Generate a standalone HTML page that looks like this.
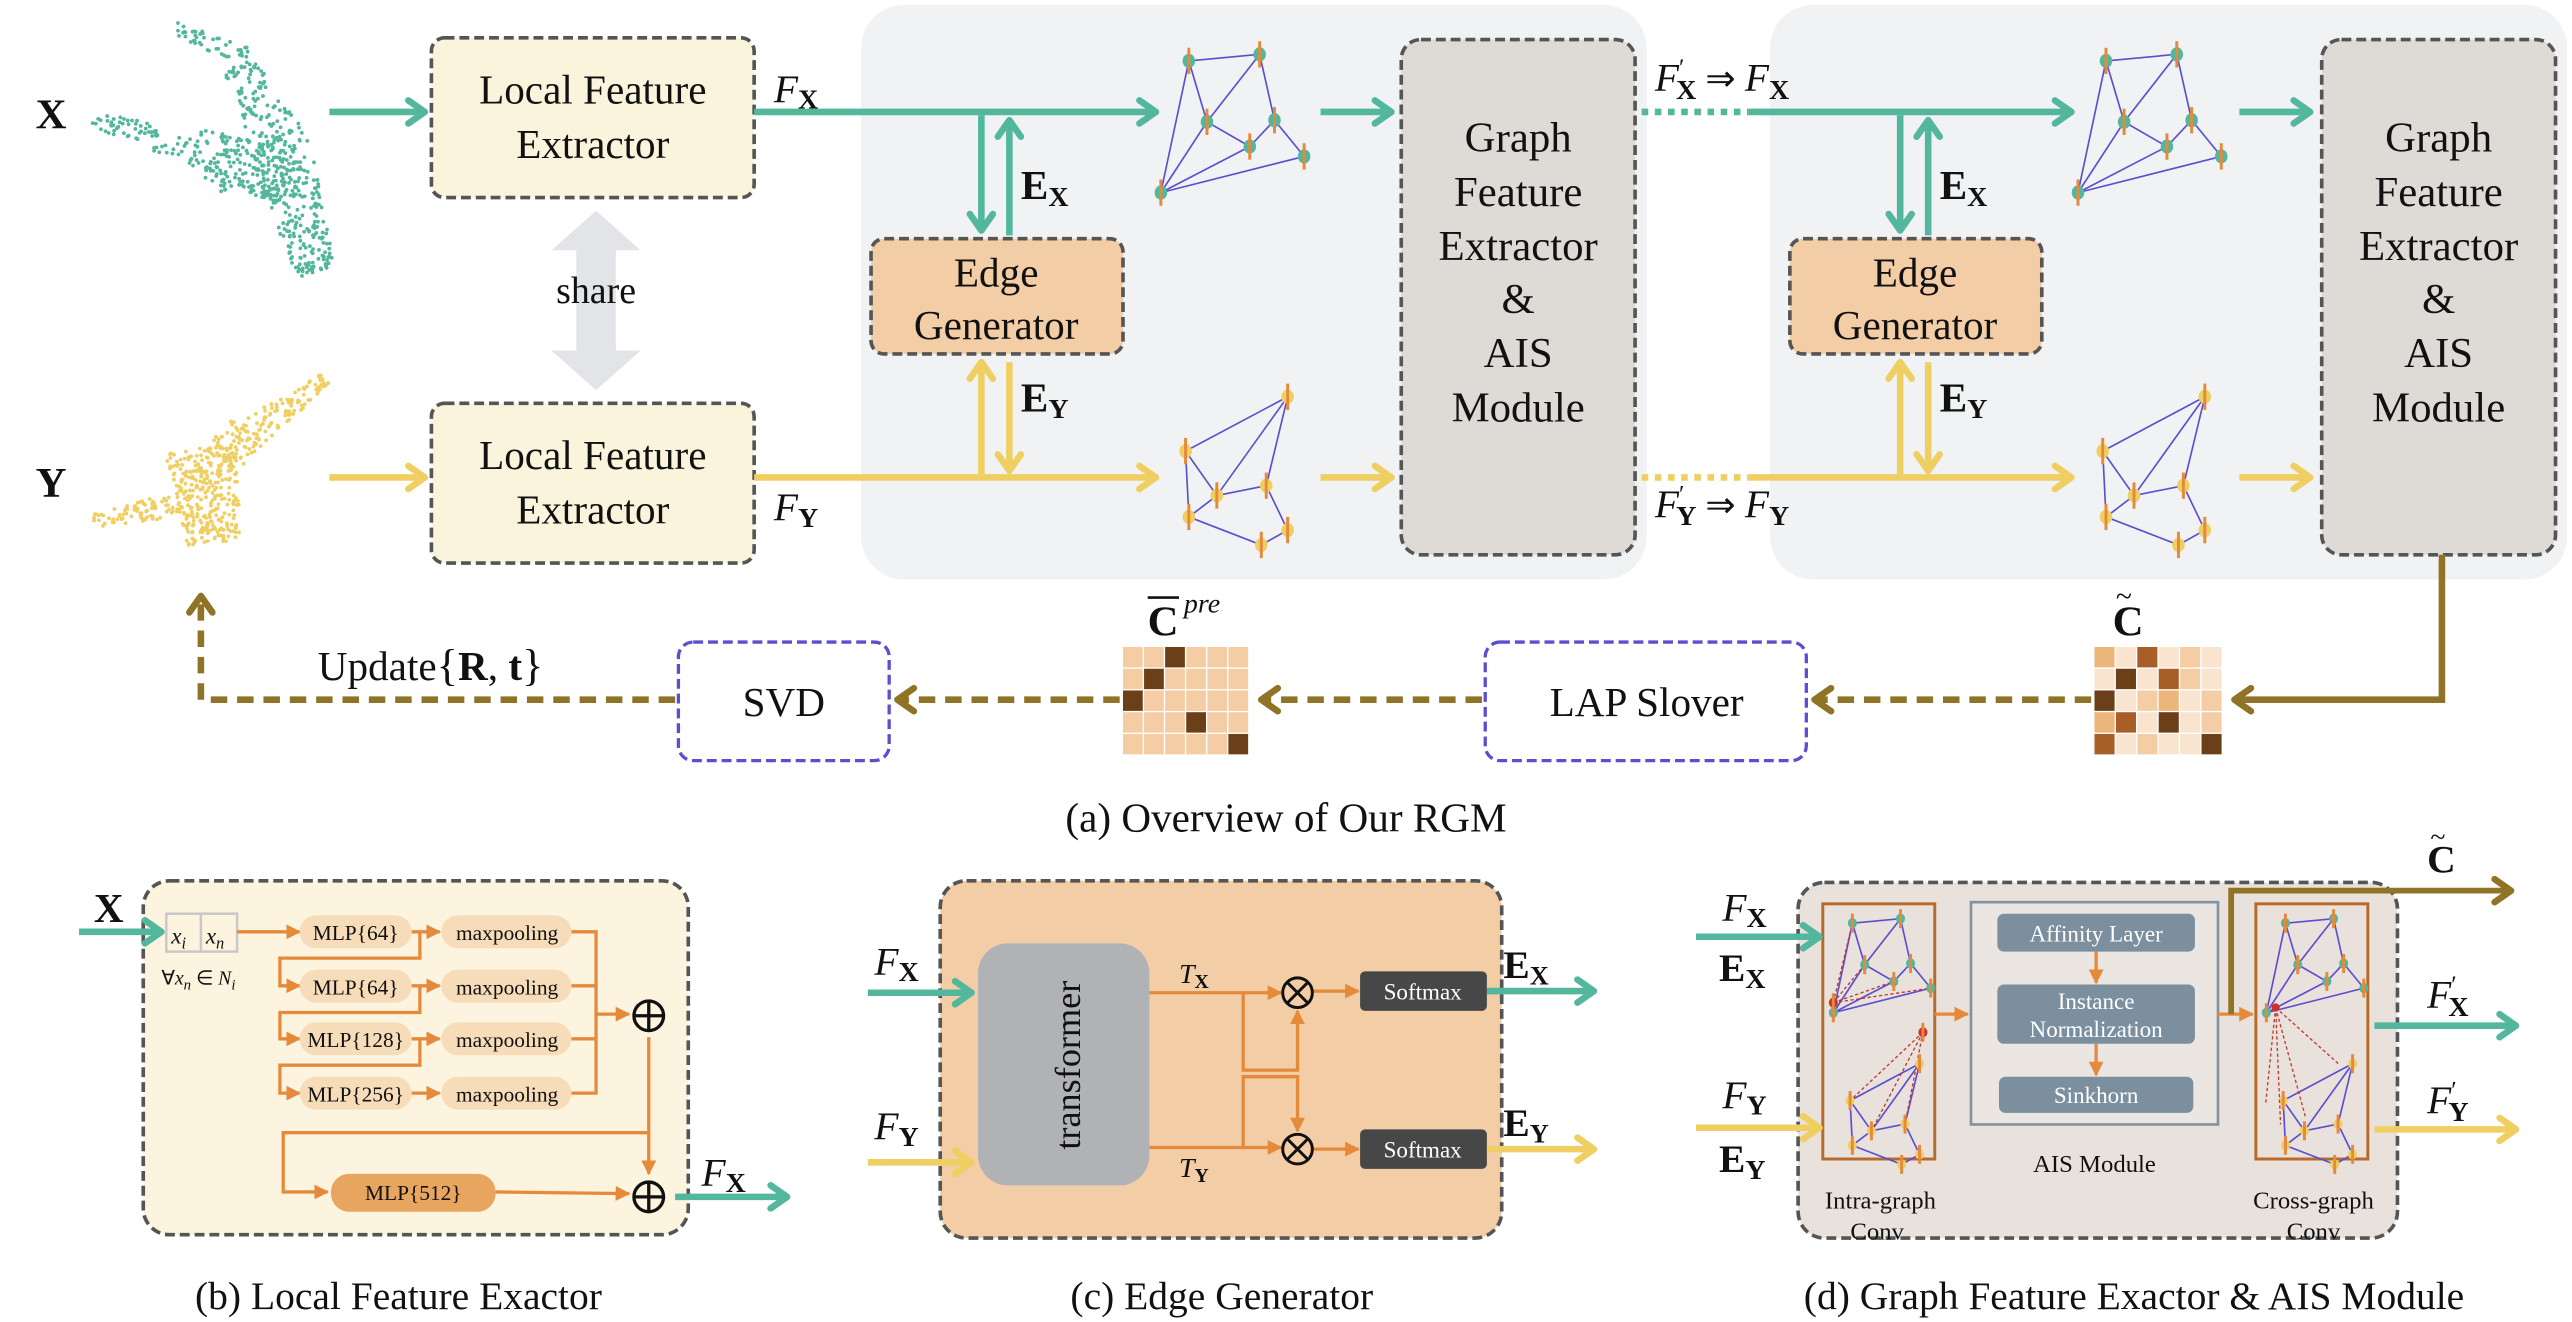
<!DOCTYPE html>
<html><head><meta charset="utf-8">
<style>
html,body{margin:0;padding:0;background:#fff;}
svg{display:block;}
text{font-family:"Liberation Serif",serif;fill:#111;}
</style></head>
<body>
<svg id="s" width="2572" height="1322" viewBox="0 0 1562 803" preserveAspectRatio="none" xmlns="http://www.w3.org/2000/svg">
<defs>
<marker id="mT" markerUnits="userSpaceOnUse" viewBox="0 0 16 18" markerWidth="16" markerHeight="18" refX="13" refY="9" orient="auto"><path d="M3,2 L13,9 L3,16" fill="none" stroke="#52b79c" stroke-width="4" stroke-linecap="round" stroke-linejoin="round"/></marker>
<marker id="mY" markerUnits="userSpaceOnUse" viewBox="0 0 16 18" markerWidth="16" markerHeight="18" refX="13" refY="9" orient="auto"><path d="M3,2 L13,9 L3,16" fill="none" stroke="#f0cf62" stroke-width="4" stroke-linecap="round" stroke-linejoin="round"/></marker>
<marker id="mB" markerUnits="userSpaceOnUse" viewBox="0 0 16 18" markerWidth="16" markerHeight="18" refX="13" refY="9" orient="auto"><path d="M3,2 L13,9 L3,16" fill="none" stroke="#8f7428" stroke-width="4" stroke-linecap="round" stroke-linejoin="round"/></marker>
<marker id="mO" markerUnits="userSpaceOnUse" viewBox="0 0 10 10" markerWidth="9" markerHeight="9" refX="9" refY="5" orient="auto"><path d="M0,0 L10,5 L0,10 Z" fill="#e58a3a"/></marker>
</defs>

<rect x="523" y="3" width="477" height="349" rx="26" fill="#f1f2f4"/>
<rect x="1075" y="3" width="484" height="349" rx="26" fill="#f1f2f4"/>

<g id="clouds"></g>

<text x="31" y="78" font-size="26" font-weight="bold" text-anchor="middle">X</text>
<text x="31" y="302" font-size="26" font-weight="bold" text-anchor="middle">Y</text>

<rect x="262" y="23" width="196" height="97" rx="8" fill="#fbf4dd" stroke="#555" stroke-width="2.2" stroke-dasharray="6,3"/>
<text x="360" y="63" font-size="25" text-anchor="middle">Local Feature</text>
<text x="360" y="96" font-size="25" text-anchor="middle">Extractor</text>
<rect x="262" y="245" width="196" height="97" rx="8" fill="#fbf4dd" stroke="#555" stroke-width="2.2" stroke-dasharray="6,3"/>
<text x="360" y="285" font-size="25" text-anchor="middle">Local Feature</text>
<text x="360" y="318" font-size="25" text-anchor="middle">Extractor</text>

<line x1="200" y1="68" x2="258" y2="68" stroke="#52b79c" stroke-width="4" marker-end="url(#mT)"/>
<line x1="200" y1="290" x2="258" y2="290" stroke="#f0cf62" stroke-width="4" marker-end="url(#mY)"/>

<path d="M362,128 L389,152 L374,152 L374,213 L389,213 L362,237 L335,213 L350,213 L350,152 L335,152 Z" fill="#e3e4e8"/>
<text x="362" y="184" font-size="23" text-anchor="middle">share</text>

<text x="470" y="62" font-size="24" font-style="italic">F<tspan font-size="17" font-weight="bold" font-style="normal" dy="4">X</tspan></text>
<text x="470" y="316" font-size="24" font-style="italic">F<tspan font-size="17" font-weight="bold" font-style="normal" dy="4">Y</tspan></text>

<line x1="458" y1="68" x2="702" y2="68" stroke="#52b79c" stroke-width="4" marker-end="url(#mT)"/>
<line x1="458" y1="290" x2="702" y2="290" stroke="#f0cf62" stroke-width="4" marker-end="url(#mY)"/>

<rect x="529" y="145" width="153" height="70" rx="8" fill="#f2cda6" stroke="#555" stroke-width="2.2" stroke-dasharray="6,3"/>
<text x="605" y="174" font-size="25" text-anchor="middle">Edge</text>
<text x="605" y="206" font-size="25" text-anchor="middle">Generator</text>
<line x1="596" y1="70" x2="596" y2="140" stroke="#52b79c" stroke-width="4" marker-end="url(#mT)"/>
<line x1="613" y1="143" x2="613" y2="73" stroke="#52b79c" stroke-width="4" marker-end="url(#mT)"/>
<text x="620" y="121" font-size="25" font-weight="bold">E<tspan font-size="17" dy="4">X</tspan></text>
<line x1="596" y1="288" x2="596" y2="220" stroke="#f0cf62" stroke-width="4" marker-end="url(#mY)"/>
<line x1="613" y1="220" x2="613" y2="286" stroke="#f0cf62" stroke-width="4" marker-end="url(#mY)"/>
<text x="620" y="250" font-size="25" font-weight="bold">E<tspan font-size="17" dy="4">Y</tspan></text>

<rect x="1087" y="145" width="153" height="70" rx="8" fill="#f2cda6" stroke="#555" stroke-width="2.2" stroke-dasharray="6,3"/>
<text x="1163" y="174" font-size="25" text-anchor="middle">Edge</text>
<text x="1163" y="206" font-size="25" text-anchor="middle">Generator</text>
<line x1="1154" y1="70" x2="1154" y2="140" stroke="#52b79c" stroke-width="4" marker-end="url(#mT)"/>
<line x1="1171" y1="143" x2="1171" y2="73" stroke="#52b79c" stroke-width="4" marker-end="url(#mT)"/>
<text x="1178" y="121" font-size="25" font-weight="bold">E<tspan font-size="17" dy="4">X</tspan></text>
<line x1="1154" y1="288" x2="1154" y2="220" stroke="#f0cf62" stroke-width="4" marker-end="url(#mY)"/>
<line x1="1171" y1="220" x2="1171" y2="286" stroke="#f0cf62" stroke-width="4" marker-end="url(#mY)"/>
<text x="1178" y="250" font-size="25" font-weight="bold">E<tspan font-size="17" dy="4">Y</tspan></text>

<g id="graphs"></g>

<line x1="802" y1="68" x2="845" y2="68" stroke="#52b79c" stroke-width="4" marker-end="url(#mT)"/>
<line x1="802" y1="290" x2="845" y2="290" stroke="#f0cf62" stroke-width="4" marker-end="url(#mY)"/>
<line x1="1360" y1="68" x2="1403" y2="68" stroke="#52b79c" stroke-width="4" marker-end="url(#mT)"/>
<line x1="1360" y1="290" x2="1403" y2="290" stroke="#f0cf62" stroke-width="4" marker-end="url(#mY)"/>

<g>
<rect x="851" y="24" width="142" height="313" rx="12" fill="#dedad6" stroke="#555" stroke-width="2.2" stroke-dasharray="6,3"/>
<text x="922" y="92" font-size="26" text-anchor="middle">Graph</text>
<text x="922" y="125" font-size="26" text-anchor="middle">Feature</text>
<text x="922" y="158" font-size="26" text-anchor="middle">Extractor</text>
<text x="922" y="190" font-size="26" text-anchor="middle">&amp;</text>
<text x="922" y="223" font-size="26" text-anchor="middle">AIS</text>
<text x="922" y="256" font-size="26" text-anchor="middle">Module</text>
</g>
<g>
<rect x="1410" y="24" width="142" height="313" rx="12" fill="#dedad6" stroke="#555" stroke-width="2.2" stroke-dasharray="6,3"/>
<text x="1481" y="92" font-size="26" text-anchor="middle">Graph</text>
<text x="1481" y="125" font-size="26" text-anchor="middle">Feature</text>
<text x="1481" y="158" font-size="26" text-anchor="middle">Extractor</text>
<text x="1481" y="190" font-size="26" text-anchor="middle">&amp;</text>
<text x="1481" y="223" font-size="26" text-anchor="middle">AIS</text>
<text x="1481" y="256" font-size="26" text-anchor="middle">Module</text>
</g>

<line x1="997" y1="68" x2="1062" y2="68" stroke="#52b79c" stroke-width="4" stroke-dasharray="4,4"/>
<line x1="1062" y1="68" x2="1258" y2="68" stroke="#52b79c" stroke-width="4" marker-end="url(#mT)"/>
<line x1="997" y1="290" x2="1062" y2="290" stroke="#f0cf62" stroke-width="4" stroke-dasharray="4,4"/>
<line x1="1062" y1="290" x2="1258" y2="290" stroke="#f0cf62" stroke-width="4" marker-end="url(#mY)"/>
<text x="1005" y="55" font-size="24"><tspan font-style="italic">F</tspan><tspan font-size="15" dy="-9">′</tspan><tspan font-size="17" font-weight="bold" dy="14" dx="-5">X</tspan><tspan dy="-5" font-size="22"> ⇒ </tspan><tspan font-style="italic">F</tspan><tspan font-size="17" font-weight="bold" dy="5">X</tspan></text>
<text x="1005" y="314" font-size="24"><tspan font-style="italic">F</tspan><tspan font-size="15" dy="-9">′</tspan><tspan font-size="17" font-weight="bold" dy="14" dx="-5">Y</tspan><tspan dy="-5" font-size="22"> ⇒ </tspan><tspan font-style="italic">F</tspan><tspan font-size="17" font-weight="bold" dy="5">Y</tspan></text>

<polyline points="1483,337 1483,425 1357,425" fill="none" stroke="#8f7428" stroke-width="4" marker-end="url(#mB)"/>
<g id="mats"></g>
<text x="1283" y="386" font-size="26" font-weight="bold">C</text>
<text x="1285" y="368" font-size="18">~</text>
<text x="697" y="386" font-size="26" font-weight="bold">C</text>
<line x1="697" y1="363" x2="716" y2="363" stroke="#111" stroke-width="1.6"/>
<text x="719" y="372" font-size="17" font-style="italic">pre</text>

<line x1="1270" y1="425" x2="1102" y2="425" stroke="#8f7428" stroke-width="4" stroke-dasharray="10,6" marker-end="url(#mB)"/>
<rect x="902" y="390" width="195" height="72" rx="9" fill="#fff" stroke="#5a4fcf" stroke-width="2" stroke-dasharray="6,3"/>
<text x="1000" y="435" font-size="25" text-anchor="middle">LAP Slover</text>
<line x1="900" y1="425" x2="766" y2="425" stroke="#8f7428" stroke-width="4" stroke-dasharray="10,6" marker-end="url(#mB)"/>
<line x1="680" y1="425" x2="545" y2="425" stroke="#8f7428" stroke-width="4" stroke-dasharray="10,6" marker-end="url(#mB)"/>
<rect x="412" y="390" width="128" height="72" rx="9" fill="#fff" stroke="#5a4fcf" stroke-width="2" stroke-dasharray="6,3"/>
<text x="476" y="435" font-size="25" text-anchor="middle">SVD</text>
<polyline points="410,425 122,425 122,362" fill="none" stroke="#8f7428" stroke-width="4" stroke-dasharray="10,6" marker-end="url(#mB)"/>
<text x="193" y="413" font-size="25">Update<tspan font-size="27">{</tspan><tspan font-weight="bold">R</tspan>, <tspan font-weight="bold">t</tspan><tspan font-size="27">}</tspan></text>

<text x="781" y="505" font-size="25" text-anchor="middle">(a) Overview of Our RGM</text>

<!-- (b) -->
<rect x="87" y="535" width="331" height="215" rx="16" fill="#fcf4de" stroke="#555" stroke-width="2.2" stroke-dasharray="6,3"/>
<text x="57" y="560" font-size="25" font-weight="bold">X</text>
<line x1="48" y1="566" x2="98" y2="566" stroke="#52b79c" stroke-width="4" marker-end="url(#mT)"/>
<rect x="101" y="555" width="43" height="23" fill="#fcf4de" stroke="#c8c8c8" stroke-width="1.5"/>
<line x1="122" y1="555" x2="122" y2="578" stroke="#c8c8c8" stroke-width="1.5"/>
<text x="104" y="573" font-size="14" font-style="italic">x<tspan font-size="10" dy="3">i</tspan></text>
<text x="125" y="573" font-size="14" font-style="italic">x<tspan font-size="10" dy="3">n</tspan></text>
<text x="98" y="598" font-size="12">∀<tspan font-style="italic">x</tspan><tspan font-size="9" font-style="italic" dy="3">n</tspan><tspan dy="-3"> ∈ </tspan><tspan font-style="italic">N</tspan><tspan font-size="9" font-style="italic" dy="3">i</tspan></text>
<g stroke="#e58a3a" stroke-width="2" fill="none">
<line x1="144" y1="566" x2="182" y2="566" marker-end="url(#mO)"/>
<polyline points="255,566 255,582 170,582 170,598.8 182,598.8" marker-end="url(#mO)"/>
<polyline points="255,598.8 255,615 170,615 170,631 182,631" marker-end="url(#mO)"/>
<polyline points="255,631 255,647 170,647 170,664 182,664" marker-end="url(#mO)"/>
<line x1="250" y1="566" x2="267" y2="566" marker-end="url(#mO)"/>
<line x1="250" y1="598.8" x2="267" y2="598.8" marker-end="url(#mO)"/>
<line x1="250" y1="631" x2="267" y2="631" marker-end="url(#mO)"/>
<line x1="250" y1="664" x2="267" y2="664" marker-end="url(#mO)"/>
<polyline points="347,566 362,566 362,664 347,664"/>
<line x1="347" y1="598.8" x2="362" y2="598.8"/>
<line x1="347" y1="631" x2="362" y2="631"/>
<line x1="362" y1="616" x2="382" y2="616" marker-end="url(#mO)"/>
<line x1="394" y1="630" x2="394" y2="713" marker-end="url(#mO)"/>
<polyline points="394,688 172,688 172,724 199,724" marker-end="url(#mO)"/>
<line x1="301" y1="724" x2="382" y2="725" marker-end="url(#mO)"/>
</g>
<g font-size="13">
<rect x="182" y="556" width="68" height="20" rx="10" fill="#f6dcb8"/><text x="216" y="571" text-anchor="middle">MLP{64}</text>
<rect x="182" y="589" width="68" height="20" rx="10" fill="#f6dcb8"/><text x="216" y="604" text-anchor="middle">MLP{64}</text>
<rect x="182" y="621" width="68" height="20" rx="10" fill="#f6dcb8"/><text x="216" y="636" text-anchor="middle">MLP{128}</text>
<rect x="182" y="654" width="68" height="20" rx="10" fill="#f6dcb8"/><text x="216" y="669" text-anchor="middle">MLP{256}</text>
<rect x="268" y="556" width="79" height="20" rx="10" fill="#f6dcb8"/><text x="308" y="571" text-anchor="middle">maxpooling</text>
<rect x="268" y="589" width="79" height="20" rx="10" fill="#f6dcb8"/><text x="308" y="604" text-anchor="middle">maxpooling</text>
<rect x="268" y="621" width="79" height="20" rx="10" fill="#f6dcb8"/><text x="308" y="636" text-anchor="middle">maxpooling</text>
<rect x="268" y="654" width="79" height="20" rx="10" fill="#f6dcb8"/><text x="308" y="669" text-anchor="middle">maxpooling</text>
<rect x="201" y="713" width="100" height="23" rx="11" fill="#e8a55f"/><text x="251" y="729" text-anchor="middle">MLP{512}</text>
</g>
<g stroke="#111" stroke-width="2" fill="none">
<circle cx="394" cy="617" r="9"/><line x1="385" y1="617" x2="403" y2="617"/><line x1="394" y1="608" x2="394" y2="626"/>
<circle cx="394" cy="727" r="9"/><line x1="385" y1="727" x2="403" y2="727"/><line x1="394" y1="718" x2="394" y2="736"/>
</g>
<line x1="410" y1="727" x2="478" y2="727" stroke="#52b79c" stroke-width="4" marker-end="url(#mT)"/>
<text x="426" y="720" font-size="24" font-style="italic">F<tspan font-size="17" font-weight="bold" font-style="normal" dy="4">X</tspan></text>
<text x="242" y="795" font-size="24" text-anchor="middle">(b) Local Feature Exactor</text>

<!-- (c) -->
<rect x="571" y="535" width="341" height="217" rx="16" fill="#f2cda6" stroke="#555" stroke-width="2.2" stroke-dasharray="6,3"/>
<rect x="594" y="573" width="104" height="147" rx="18" fill="#b1b2b6"/>
<text transform="translate(656,647) rotate(-90)" font-size="22" text-anchor="middle">transformer</text>
<text x="531" y="592" font-size="24" font-style="italic">F<tspan font-size="17" font-weight="bold" font-style="normal" dy="4">X</tspan></text>
<line x1="527" y1="603" x2="590" y2="603" stroke="#52b79c" stroke-width="4" marker-end="url(#mT)"/>
<text x="531" y="692" font-size="24" font-style="italic">F<tspan font-size="17" font-weight="bold" font-style="normal" dy="4">Y</tspan></text>
<line x1="527" y1="706" x2="590" y2="706" stroke="#f0cf62" stroke-width="4" marker-end="url(#mY)"/>
<text x="716" y="597" font-size="17" font-style="italic">T<tspan font-size="12" font-weight="bold" font-style="normal" dy="3">X</tspan></text>
<text x="716" y="715" font-size="17" font-style="italic">T<tspan font-size="12" font-weight="bold" font-style="normal" dy="3">Y</tspan></text>
<g stroke="#e58a3a" stroke-width="2" fill="none">
<line x1="698" y1="603" x2="778" y2="603" marker-end="url(#mO)"/>
<line x1="698" y1="697" x2="778" y2="697" marker-end="url(#mO)"/>
<polyline points="755,603 755,650 788,650 788,614" marker-end="url(#mO)"/>
<polyline points="755,697 755,654 788,654 788,687" marker-end="url(#mO)"/>
<line x1="797" y1="602" x2="825" y2="602" marker-end="url(#mO)"/>
<line x1="797" y1="698" x2="825" y2="698" marker-end="url(#mO)"/>
</g>
<g stroke="#111" stroke-width="1.8" fill="none">
<circle cx="788" cy="603" r="9"/><line x1="782" y1="597" x2="794" y2="609"/><line x1="794" y1="597" x2="782" y2="609"/>
<circle cx="788" cy="698" r="9"/><line x1="782" y1="692" x2="794" y2="704"/><line x1="794" y1="692" x2="782" y2="704"/>
</g>
<rect x="826" y="590" width="77" height="24" rx="3" fill="#474747"/>
<text x="864" y="607" font-size="14" style="fill:#fff" text-anchor="middle">Softmax</text>
<rect x="826" y="686" width="77" height="24" rx="3" fill="#474747"/>
<text x="864" y="703" font-size="14" style="fill:#fff" text-anchor="middle">Softmax</text>
<text x="913" y="594" font-size="24" font-weight="bold">E<tspan font-size="16" dy="4">X</tspan></text>
<line x1="903" y1="602" x2="968" y2="602" stroke="#52b79c" stroke-width="4" marker-end="url(#mT)"/>
<text x="913" y="690" font-size="24" font-weight="bold">E<tspan font-size="16" dy="4">Y</tspan></text>
<line x1="903" y1="698" x2="968" y2="698" stroke="#f0cf62" stroke-width="4" marker-end="url(#mY)"/>
<text x="742" y="795" font-size="24" text-anchor="middle">(c) Edge Generator</text>

<!-- (d) -->
<rect x="1092" y="536" width="364" height="216" rx="16" fill="#e8e1dc" stroke="#555" stroke-width="2.2" stroke-dasharray="6,3"/>
<rect x="1107" y="549" width="68" height="155" fill="none" stroke="#b86a2a" stroke-width="1.8"/>
<rect x="1370" y="549" width="68" height="155" fill="none" stroke="#b86a2a" stroke-width="1.8"/>
<rect x="1197" y="548" width="150" height="135" fill="#ebe6e1" stroke="#8192a0" stroke-width="1.6"/>
<rect x="1213" y="555" width="120" height="23" rx="4" fill="#7b8f9e"/>
<text x="1273" y="572" font-size="14" style="fill:#fff" text-anchor="middle">Affinity Layer</text>
<rect x="1213" y="598" width="120" height="36" rx="4" fill="#7b8f9e"/>
<text x="1273" y="613" font-size="14" style="fill:#fff" text-anchor="middle">Instance</text>
<text x="1273" y="630" font-size="14" style="fill:#fff" text-anchor="middle">Normalization</text>
<rect x="1214" y="654" width="118" height="22" rx="4" fill="#7b8f9e"/>
<text x="1273" y="670" font-size="14" style="fill:#fff" text-anchor="middle">Sinkhorn</text>
<g stroke="#e58a3a" stroke-width="2" fill="none">
<line x1="1273" y1="578" x2="1273" y2="597" marker-end="url(#mO)"/>
<line x1="1273" y1="634" x2="1273" y2="653" marker-end="url(#mO)"/>
<line x1="1175" y1="616" x2="1195" y2="616" marker-end="url(#mO)"/>
<line x1="1347" y1="616" x2="1368" y2="616" marker-end="url(#mO)"/>
</g>
<g id="small"></g>
<polyline points="1355,616 1355,541 1525,541" fill="none" stroke="#8f7428" stroke-width="3.5" marker-end="url(#mB)"/>
<text x="1474" y="530" font-size="24" font-weight="bold">C</text>
<text x="1476" y="514" font-size="17">~</text>
<text x="1272" y="712" font-size="15" text-anchor="middle">AIS Module</text>
<text x="1142" y="734" font-size="15" text-anchor="middle">Intra-graph</text>
<text x="1140" y="753" font-size="15" text-anchor="middle">Conv</text>
<text x="1405" y="734" font-size="15" text-anchor="middle">Cross-graph</text>
<text x="1405" y="753" font-size="15" text-anchor="middle">Conv</text>
<text x="1046" y="559" font-size="24" font-style="italic">F<tspan font-size="17" font-weight="bold" font-style="normal" dy="4">X</tspan></text>
<line x1="1030" y1="569" x2="1105" y2="569" stroke="#52b79c" stroke-width="4" marker-end="url(#mT)"/>
<text x="1044" y="596" font-size="24" font-weight="bold">E<tspan font-size="17" dy="4">X</tspan></text>
<text x="1046" y="673" font-size="24" font-style="italic">F<tspan font-size="17" font-weight="bold" font-style="normal" dy="4">Y</tspan></text>
<line x1="1030" y1="685" x2="1105" y2="685" stroke="#f0cf62" stroke-width="4" marker-end="url(#mY)"/>
<text x="1044" y="712" font-size="24" font-weight="bold">E<tspan font-size="17" dy="4">Y</tspan></text>
<text x="1474" y="612" font-size="24"><tspan font-style="italic">F</tspan><tspan font-size="15" dy="-9">′</tspan><tspan font-size="17" font-weight="bold" dy="14" dx="-5">X</tspan></text>
<line x1="1442" y1="623" x2="1528" y2="623" stroke="#52b79c" stroke-width="4" marker-end="url(#mT)"/>
<text x="1474" y="676" font-size="24"><tspan font-style="italic">F</tspan><tspan font-size="15" dy="-9">′</tspan><tspan font-size="17" font-weight="bold" dy="14" dx="-5">Y</tspan></text>
<line x1="1442" y1="686" x2="1528" y2="686" stroke="#f0cf62" stroke-width="4" marker-end="url(#mY)"/>
<text x="1296" y="795" font-size="24" text-anchor="middle">(d) Graph Feature Exactor &amp; AIS Module</text>
</svg>
<script>
(function(){
var NS="http://www.w3.org/2000/svg";
function el(p,t,a){var e=document.createElementNS(NS,t);for(var k in a)e.setAttribute(k,a[k]);p.appendChild(e);return e;}
var seed=12345;function r(){seed=(seed*16807)%2147483647;return (seed-1)/2147483646;}
function u(){return r()*2-1;}
var C=document.getElementById('clouds');
function seg(x1,y1,x2,y2,w1,w2,n,col){var dx=x2-x1,dy=y2-y1,L=Math.sqrt(dx*dx+dy*dy),nx=-dy/L,ny=dx/L;
for(var i=0;i<n;i++){var t=r(),w=w1+(w2-w1)*t,o=u()*w;el(C,'circle',{cx:(x1+dx*t+nx*o).toFixed(1),cy:(y1+dy*t+ny*o).toFixed(1),r:1.15,fill:col});}}
var T="#52b79c",Y="#f0cf62";
// teal: plume + wing
seg(106,17,148,38,4,10,50,T);seg(145,40,170,90,10,18,110,T);seg(168,85,192,166,20,12,260,T);
seg(57,72,120,92,5,10,70,T);seg(118,88,175,110,12,16,140,T);seg(125,100,140,115,6,6,25,T);
// yellow
seg(198,230,150,265,4,10,100,Y);seg(150,262,135,280,12,14,60,Y);seg(57,316,110,306,4,8,80,Y);
seg(122,272,130,330,22,16,300,Y);
var G=document.getElementById('graphs'),S=document.getElementById('small');
function graph(P,nodes,edges,ox,oy,s,col,red){
 edges.forEach(function(e){var a=nodes[e[0]],b=nodes[e[1]];el(P,'line',{x1:ox+a[0]*s,y1:oy+a[1]*s,x2:ox+b[0]*s,y2:oy+b[1]*s,stroke:'#5a4fcf','stroke-width':1});});
 if(red){red.forEach(function(e){var a=nodes[e[0]],b=nodes[e[1]];el(P,'line',{x1:ox+a[0]*s,y1:oy+a[1]*s,x2:ox+b[0]*s,y2:oy+b[1]*s,stroke:'#c0392b','stroke-width':0.8,'stroke-dasharray':'2,1.5'});});}
 nodes.forEach(function(n,i){var x=ox+n[0]*s,y=oy+n[1]*s;var rc=(red&&i==nodes.length-1);el(P,'ellipse',{cx:x,cy:y,rx:3.3*s+0.5,ry:3.8*s+0.5,fill:rc?'#d0302a':col});el(P,'rect',{x:x-0.9,y:y-7*s-1,width:1.8,height:14*s+2,fill:'#e58a3a'});});
}
var NX=[[722,37],[765,33],[733,74],[774,73],[759,89],[792,95],[705,117]];
var EX=[[0,1],[0,2],[1,2],[1,3],[2,4],[3,4],[3,5],[6,0],[6,2],[6,4],[6,5]];
var NY=[[782,241],[720,274],[739,301],[769,295],[722,314],[766,331],[782,322]];
var EY=[[0,1],[0,2],[0,3],[1,2],[1,4],[2,4],[2,3],[3,6],[4,5],[5,6]];
graph(G,NX,EX,0,0,1,T);graph(G,NY,EY,0,0,1,Y);
graph(G,NX,EX,557,0,1,T);graph(G,NY,EY,557,0,1,Y);
function sm(N,dy){return N.map(function(n){return [n[0]-700,n[1]-dy];});}
var nx1=sm(NX,30),ny1=sm(NY,235);
graph(S,nx1.concat([[5,78]]),EX,1110,556,0.68,T,[[7,0],[7,2],[7,4],[7,5]]);
graph(S,ny1.concat([[85,-22]]),EY,1110,642,0.68,Y,[[7,1],[7,2],[7,3]]);
graph(S,nx1,EX,1373,556,0.68,T);
graph(S,ny1,EY,1373,642,0.68,Y);
el(S,'circle',{cx:1382,cy:612,r:2.5,fill:'#d0302a'});
[[1376,670],[1385,683],[1400,678],[1420,646]].forEach(function(p){el(S,'line',{x1:1382,y1:612,x2:p[0],y2:p[1],stroke:'#c0392b','stroke-width':0.8,'stroke-dasharray':'2,1.5'});});
var M=document.getElementById('mats');
function mat(x,y,cw,ch,cells){for(var i=0;i<5;i++)for(var j=0;j<6;j++){el(M,'rect',{x:x+j*cw,y:y+i*ch,width:cw-0.8,height:ch-0.8,fill:cells[i][j]});}}
var b="#f4cda5",d="#6b3f18",l="#f9e4cf",m="#a85f27",o="#ecb57a";
mat(682,393,12.8,13.2,[[b,b,d,b,b,b],[b,d,b,b,b,b],[d,b,b,b,b,b],[b,b,b,d,b,b],[b,b,b,b,b,d]]);
mat(1272,393,13,13.2,[[o,l,m,l,b,l],[l,d,l,m,b,l],[d,l,b,o,l,b],[o,m,l,d,l,b],[m,l,b,l,l,d]]);
})();
</script>
</body></html>
